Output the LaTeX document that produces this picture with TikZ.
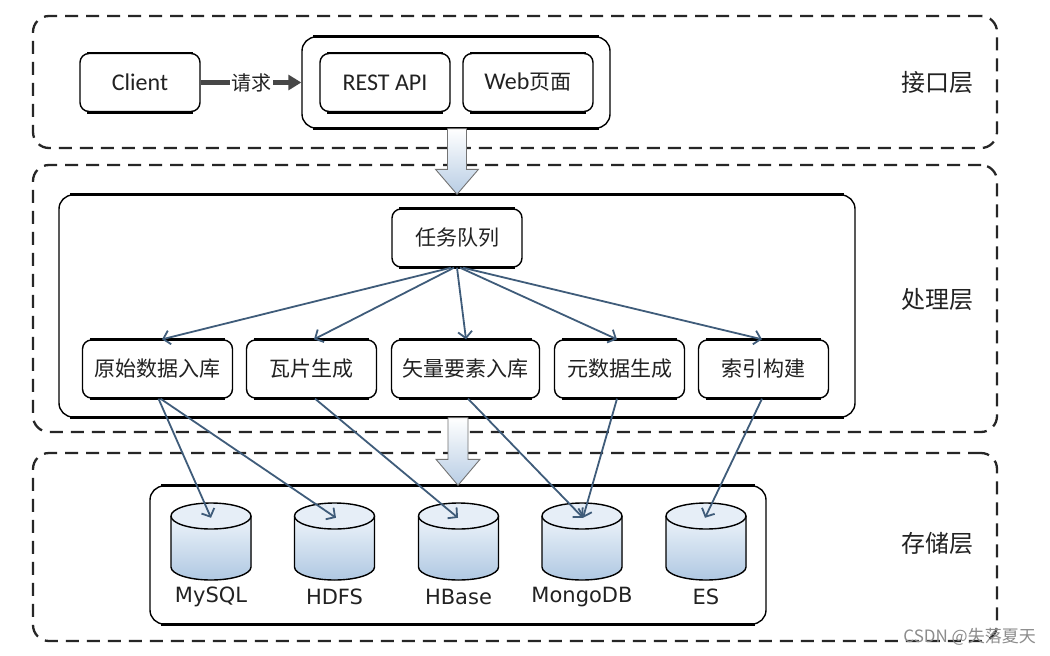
\documentclass[tikz,border=0pt]{standalone}
\usepackage{fontspec}
\setmainfont{Carlito}
\newfontfamily\cjk{Noto Sans CJK SC}
\newfontfamily\dvs{DejaVu Sans}
\usetikzlibrary{arrows.meta,calc}
\definecolor{arrowblue}{HTML}{3F5C7A}
\definecolor{blockblue}{HTML}{B8CDE4}
\definecolor{cyltop}{HTML}{EEF4FA}
\definecolor{cylbot}{HTML}{AFC8E2}
\definecolor{cylcap}{HTML}{E6EEF7}
\definecolor{txt}{HTML}{222222}
\begin{document}
\begin{tikzpicture}[x=1pt,y=1pt,
  layer/.style={draw=black!85, line width=2.3pt, dash pattern=on 13pt off 8pt, rounded corners=16pt, minimum width=964pt, inner sep=0pt},
  box/.style={draw=black, line width=1.4pt, rounded corners=9pt, fill=white, inner sep=0pt, minimum height=58pt, text=txt, font=\fontsize{21}{24}\selectfont\cjk},
  latin/.style={font=\fontsize{24}{28}\selectfont},
  cont/.style={draw=black, line width=1.4pt, rounded corners=14pt, inner sep=0pt},
  lab/.style={font=\fontsize{24}{28}\selectfont\cjk, text=txt},
  flow/.style={draw=arrowblue, line width=1.8pt, -{Straight Barb[length=6.5pt,width=14pt]}},
  block/.style={draw=black!55, line width=0.9pt, top color=white, bottom color=blockblue},
  cyllab/.style={font=\fontsize{21}{24}\selectfont\dvs, text=txt},
  edge/.style={line width=2.6pt, line cap=butt}
]
\useasboundingbox[fill=white] (0,0) rectangle (1050,-656);

% layers
\node[layer, minimum height=132pt] (L1) at (515,-82) {};
\node[layer, minimum height=267pt] (L2) at (515,-298.5) {};
\node[layer, minimum height=188pt] (L3) at (515,-547) {};
\node[lab] (l1lab) at (937,-82) {接口层};
\node[lab] (l2lab) at (937,-300) {处理层};
\node[lab] (l3lab) at (937,-543) {存储层};

% interface layer
\node[cont, minimum width=308pt, minimum height=91pt] (api) at (456,-82.5) {};
\node[box, latin, minimum width=120pt] (client) at (140,-82.5) {Client};
\node[box, latin, minimum width=130pt] (rest) at (385,-82.5) {REST API};
\node[box, latin, minimum width=130pt] (web) at (528,-82.5) {Web{\cjk\fontsize{21}{24}\selectfont 页面}};

\draw[line width=4.5pt, draw=black!72, -{Triangle[length=13pt,width=15pt]}] (client.east) -- node[fill=white, inner sep=1.5pt, font=\fontsize{20}{22}\selectfont\cjk, text=txt] (req) {请求} (api.west);

% processing layer
\node[cont, minimum width=796pt, minimum height=222pt] (proc) at (457,-306) {};
\node[box, minimum width=130pt] (task) at (457,-238) {任务队列};
\node[box, minimum width=150pt] (raw) at (157.5,-369) {原始数据入库};
\node[box, minimum width=130pt] (tile) at (311.5,-369) {瓦片生成};
\node[box, minimum width=148pt] (vec) at (465.5,-369) {矢量要素入库};
\node[box, minimum width=130pt] (meta) at (619.5,-369) {元数据生成};
\node[box, minimum width=130pt] (idx) at (763.5,-369) {索引构建};

% storage layer
\node[cont, minimum width=616pt, minimum height=138pt] (store) at (458,-555) {};
\foreach \c/\n/\t in {211/mysql/MySQL, 334.5/hdfs/HDFS, 458.5/hbase/HBase, 582/mongo/MongoDB, 706/es/ES}{
  \fill[top color=cyltop, bottom color=cylbot] (\c-40,-516) -- (\c-40,-567)
     arc[start angle=180, end angle=360, x radius=40pt, y radius=13pt] -- (\c+40,-516) -- cycle;
  \draw[line width=1.4pt] (\c-40,-516) -- (\c-40,-567)
     arc[start angle=180, end angle=360, x radius=40pt, y radius=13pt] -- (\c+40,-516);
  \draw[line width=1.4pt, fill=cylcap] (\c,-516) ellipse[x radius=40pt, y radius=13pt];
  \node[inner sep=0pt, minimum width=80pt, minimum height=77pt] (\n) at (\c,-541.5) {};
  \node[cyllab] (\n-lab) at (\c,-597) {\t};
}

% thicker top/bottom edges (Visio look)
\foreach \n in {client,rest,web,task,raw,tile,vec,meta,idx}{
  \draw[edge] ([xshift=8pt]\n.north west) -- ([xshift=-8pt]\n.north east);
  \draw[edge] ([xshift=8pt]\n.south west) -- ([xshift=-8pt]\n.south east);
}
\foreach \n in {api,proc,store}{
  \draw[edge] ([xshift=12pt]\n.north west) -- ([xshift=-12pt]\n.north east);
  \draw[edge] ([xshift=12pt]\n.south west) -- ([xshift=-12pt]\n.south east);
}

% task fan-out
\draw[flow] ([xshift=-6pt]task.south) -- ([xshift=4.5pt]raw.north);
\draw[flow] ([xshift=-3pt]task.south) -- ([xshift=2.5pt]tile.north);
\draw[flow] ([xshift=0pt]task.south) -- ([xshift=0.5pt]vec.north);
\draw[flow] ([xshift=3pt]task.south) -- ([xshift=-2.5pt]meta.north);
\draw[flow] ([xshift=6pt]task.south) -- ([xshift=-1.5pt]idx.north);

% to storage
\draw[flow] ([xshift=1pt]raw.south) -- ([yshift=-15pt]mysql.north);
\draw[flow] ([xshift=3pt]raw.south) -- ([xshift=1.5pt,yshift=-15pt]hdfs.north);
\draw[flow] ([xshift=3.5pt]tile.south) -- ([xshift=-0.5pt,yshift=-15pt]hbase.north);
\draw[flow] ([xshift=2.5pt]vec.south) -- ([xshift=1pt,yshift=-15pt]mongo.north);
\draw[flow] ([xshift=-2.5pt]meta.south) -- ([xshift=1pt,yshift=-15pt]mongo.north);
\draw[flow] ([xshift=-1.5pt]idx.south) -- ([xshift=-1pt,yshift=-15pt]es.north);

% block arrows
\coordinate (b1e) at (proc.north);
\coordinate (b1s) at (b1e |- api.south);
\path[block] ($(b1s)+(-9.5,0)$) -- ($(b1s)+(9.5,0)$) -- ($(b1e)+(9.5,25)$) -- ($(b1e)+(21.5,25)$) -- (b1e)
  -- ($(b1e)+(-21.5,25)$) -- ($(b1e)+(-9.5,25)$) -- cycle;
\coordinate (b2e) at (store.north);
\coordinate (b2s) at (b2e |- proc.south);
\path[block] ($(b2s)+(-10,0)$) -- ($(b2s)+(10,0)$) -- ($(b2e)+(10,26)$) -- ($(b2e)+(22,26)$) -- (b2e)
  -- ($(b2e)+(-22,26)$) -- ($(b2e)+(-10,26)$) -- cycle;

% watermark
\node[anchor=east, inner sep=0pt, font=\fontsize{17}{19}\selectfont\cjk, text=black!45] (wm) at (1036,-637) {CSDN @失落夏天};
\end{tikzpicture}
\end{document}
